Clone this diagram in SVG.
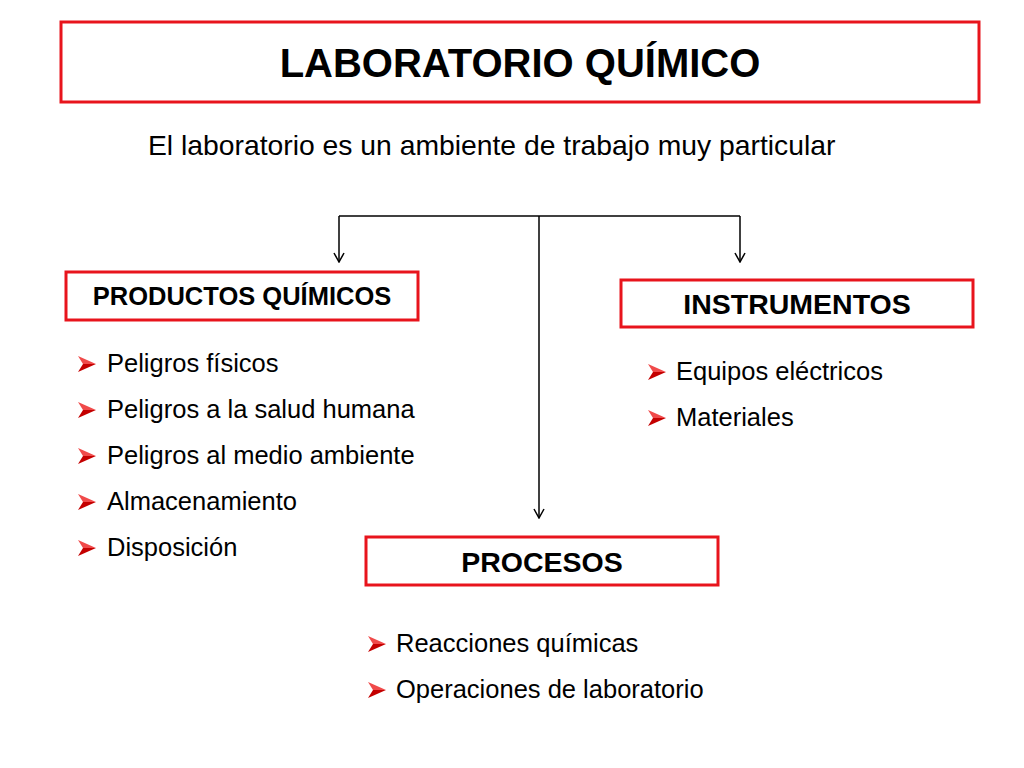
<svg xmlns="http://www.w3.org/2000/svg" width="1024" height="768" viewBox="0 0 1024 768">
<style>
.box{fill:#fff;stroke:#e8141c;stroke-width:3}
.t{font-family:"Liberation Sans",Arial,sans-serif;fill:#000}
.b{font-weight:bold;text-anchor:middle}
.li{font-size:25.5px}
.con{stroke:#000;stroke-width:1.5;fill:none}
</style>
<defs>
<marker id="ah" viewBox="0 0 12 12" refX="11" refY="6" markerWidth="12" markerHeight="12" markerUnits="userSpaceOnUse" orient="auto">
<path d="M2 1 L11 6 L2 11" fill="none" stroke="#000" stroke-width="1.5"/>
</marker>
<g id="bul">
<polygon points="0,-8 18,0 5,0" fill="#f04a4a"/>
<polygon points="0,8 18,0 5,0" fill="#c40000"/>
</g>
</defs>
<rect width="1024" height="768" fill="#fff"/>
<g id="title">
<rect class="box" x="61" y="22" width="918" height="80"/>
<text class="t b" x="520" y="77" font-size="40">LABORATORIO QUÍMICO</text>
</g>
<text class="t" x="148" y="155" font-size="28.3">El laboratorio es un ambiente de trabajo muy particular</text>
<g id="connectors">
<path class="con" d="M339 216 H740"/>
<path class="con" d="M339 216 V262" marker-end="url(#ah)"/>
<path class="con" d="M740 216 V262" marker-end="url(#ah)"/>
<path class="con" d="M539 216 V518" marker-end="url(#ah)"/>
</g>
<g id="productos">
<rect class="box" x="66" y="272" width="352" height="48"/>
<text class="t b" x="242" y="305" font-size="25.5">PRODUCTOS QUÍMICOS</text>
<use href="#bul" x="78" y="364"/>
<text class="t li" x="107" y="372">Peligros físicos</text>
<use href="#bul" x="78" y="410"/>
<text class="t li" x="107" y="418">Peligros a la salud humana</text>
<use href="#bul" x="78" y="456"/>
<text class="t li" x="107" y="464">Peligros al medio ambiente</text>
<use href="#bul" x="78" y="502"/>
<text class="t li" x="107" y="510">Almacenamiento</text>
<use href="#bul" x="78" y="548"/>
<text class="t li" x="107" y="556">Disposición</text>
</g>
<g id="instrumentos">
<rect class="box" x="621" y="280" width="352" height="47"/>
<text class="t b" x="797" y="314" font-size="28.5">INSTRUMENTOS</text>
<use href="#bul" x="648" y="372"/>
<text class="t li" x="676" y="380">Equipos eléctricos</text>
<use href="#bul" x="648" y="418"/>
<text class="t li" x="676" y="426">Materiales</text>
</g>
<g id="procesos">
<rect class="box" x="366" y="537" width="352" height="48"/>
<text class="t b" x="542" y="572" font-size="28.5">PROCESOS</text>
<use href="#bul" x="368" y="644"/>
<text class="t li" x="396" y="652">Reacciones químicas</text>
<use href="#bul" x="368" y="690"/>
<text class="t li" x="396" y="698">Operaciones de laboratorio</text>
</g>
</svg>
